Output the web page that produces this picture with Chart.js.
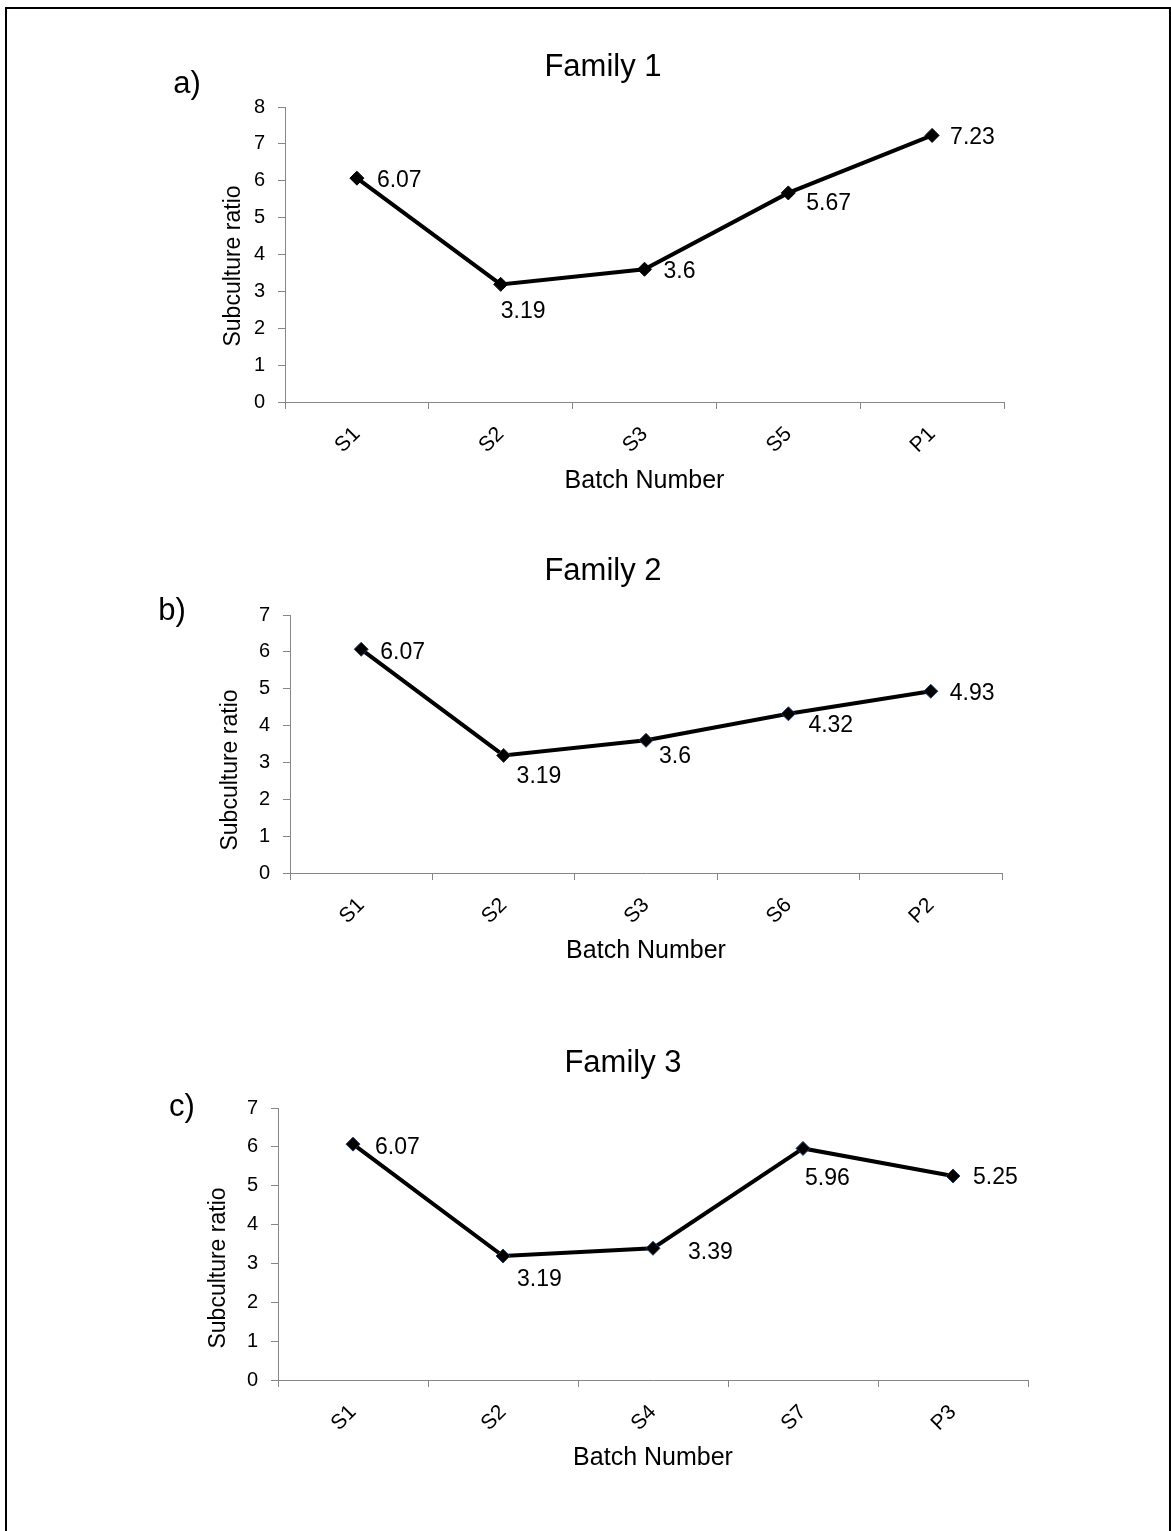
<!DOCTYPE html>
<html>
<head>
<meta charset="utf-8">
<script src="https://cdn.jsdelivr.net/npm/chart.js@4.4.1/dist/chart.umd.min.js"></script>
<style>
  html, body { margin: 0; padding: 0; background: #fff; }
  body { width: 1171px; height: 1531px; overflow: hidden; position: relative; }
  canvas { position: absolute; left: 0; }
  #frame { position: absolute; left: 5px; top: 7px; width: 1166px; height: 1600px;
           border: 2px solid #000; box-sizing: border-box; pointer-events: none; }
</style>
</head>
<body>
<canvas id="family1" width="1171" height="520" style="top:0px"></canvas>
<canvas id="family2" width="1171" height="480" style="top:520px"></canvas>
<canvas id="family3" width="1171" height="531" style="top:1000px"></canvas>
<div id="frame"></div>
<script>
// Batch labels and subculture ratios for each family
const batches1 = ['S1', 'S2', 'S3', 'S5', 'P1'];
const ratios1  = [6.07, 3.19, 3.6, 5.67, 7.23];
const batches2 = ['S1', 'S2', 'S3', 'S6', 'P2'];
const ratios2  = [6.07, 3.19, 3.6, 4.32, 4.93];
const batches3 = ['S1', 'S2', 'S4', 'S7', 'P3'];
const ratios3  = [6.07, 3.19, 3.39, 5.96, 5.25];

// Value-axis tick labels
const ratioTicks1 = [0, 1, 2, 3, 4, 5, 6, 7, 8];
const ratioTicks2 = [0, 1, 2, 3, 4, 5, 6, 7];
const ratioTicks3 = [0, 1, 2, 3, 4, 5, 6, 7];

const FONT = '"Liberation Sans", Arial, Helvetica, sans-serif';
Chart.defaults.font.family = FONT;
Chart.defaults.color = '#000';

const SIZE = { yTick: 20, xTick: 21, value: 23, yTitle: 23, xTitle: 25, title: 31, letter: 31 };

// Titles, panel letters, value-axis caption and value labels drawn on each chart
const annotate = {
  id: 'annotate',
  afterDatasetsDraw(chart, args, opts) {
    const ctx = chart.ctx;
    const ds = chart.data.datasets[0];
    const meta = chart.getDatasetMeta(0);
    ctx.save();
    ctx.fillStyle = '#000';
    ctx.textBaseline = 'middle';
    ctx.textAlign = 'left';
    ctx.font = SIZE.value + 'px ' + FONT;
    meta.data.forEach((pt, i) => {
      const off = opts.offsets[i];
      ctx.fillText(String(ds.data[i]), pt.x + off[0], pt.y + off[1]);
    });

    ctx.textAlign = 'center';
    ctx.textBaseline = 'alphabetic';
    ctx.font = SIZE.title + 'px ' + FONT;
    ctx.fillText(opts.title, opts.titleX, opts.titleY);
    ctx.font = SIZE.letter + 'px ' + FONT;
    ctx.fillText(opts.letter, opts.letterX, opts.letterY);

    ctx.save();
    ctx.translate(opts.yTitleX, opts.yTitleY);
    ctx.rotate(-Math.PI / 2);
    ctx.textBaseline = 'middle';
    ctx.font = SIZE.yTitle + 'px ' + FONT;
    ctx.fillText('Subculture ratio', 0, 0);
    ctx.restore();
    ctx.restore();
  }
};

function makePanel(p) {
  const canvas = document.getElementById(p.id);
  const h = canvas.height;
  const xAxisHeight = h - p.plotBottom;
  const lh = SIZE.xTitle * 1.2;
  return new Chart(canvas, {
    type: 'line',
    data: {
      labels: p.labels,
      datasets: [{
        data: p.values,
        borderColor: '#000',
        borderWidth: 4,
        tension: 0,
        pointStyle: 'rectRot',
        pointRadius: 7,
        pointBackgroundColor: '#000',
        pointBorderColor: p.markerEdge,
        pointBorderWidth: 1
      }]
    },
    options: {
      responsive: false,
      animation: false,
      devicePixelRatio: 1,
      layout: { padding: { left: 0, right: 1171 - p.plotRight, top: p.plotTop, bottom: 0 } },
      plugins: {
        legend: { display: false },
        tooltip: { enabled: false },
        annotate: {
          offsets: p.offsets, title: p.title, titleX: p.titleX, titleY: p.titleY,
          letter: p.letter, letterX: p.letterX, letterY: p.letterY,
          yTitleX: p.yTitleX, yTitleY: p.yTitleY
        }
      },
      scales: {
        x: {
          type: 'category',
          offset: true,
          grid: { offset: true, drawOnChartArea: false, color: '#868686', tickLength: 7, lineWidth: 1 },
          border: { color: '#868686', width: 1 },
          ticks: { autoSkip: false, maxRotation: 45, minRotation: 45, padding: 13,
                   font: { size: SIZE.xTick }, color: '#000' },
          title: { display: true, text: 'Batch Number', font: { size: SIZE.xTitle }, color: '#000',
                   padding: { top: 0, bottom: p.xTitleFromBottom - lh / 2 } },
          afterFit(scale) { scale.height = xAxisHeight; }
        },
        y: {
          min: p.ticks[0],
          max: p.ticks[p.ticks.length - 1],
          afterBuildTicks(scale) { scale.ticks = p.ticks.map(v => ({ value: v })); },
          grid: { drawOnChartArea: false, color: '#868686', tickLength: 7, lineWidth: 1 },
          border: { color: '#868686', width: 1 },
          ticks: { padding: 13, font: { size: SIZE.yTick }, color: '#000' },
          afterFit(scale) { scale.width = p.plotLeft; }
        }
      }
    },
    plugins: [annotate]
  });
}

makePanel({
  id: 'family1', labels: batches1, values: ratios1, ticks: ratioTicks1,
  plotLeft: 285, plotRight: 1004, plotTop: 107, plotBottom: 402,
  xTitleFromBottom: 39, yTitleX: 234, yTitleY: 266,
  title: 'Family 1', titleX: 603, titleY: 76,
  letter: 'a)', letterX: 187, letterY: 93,
  markerEdge: '#000',
  offsets: [[20, 2], [0, 27], [19, 2], [18, 11], [18, 2]]
});

makePanel({
  id: 'family2', labels: batches2, values: ratios2, ticks: ratioTicks2,
  plotLeft: 290, plotRight: 1002, plotTop: 95, plotBottom: 353,
  xTitleFromBottom: 49, yTitleX: 231, yTitleY: 250,
  title: 'Family 2', titleX: 603, titleY: 60,
  letter: 'b)', letterX: 172, letterY: 100,
  markerEdge: '#1f3a60',
  offsets: [[19, 3], [13, 21], [13, 16], [20, 12], [19, 2]]
});

makePanel({
  id: 'family3', labels: batches3, values: ratios3, ticks: ratioTicks3,
  plotLeft: 278, plotRight: 1028, plotTop: 108, plotBottom: 380,
  xTitleFromBottom: 73, yTitleX: 219, yTitleY: 268,
  title: 'Family 3', titleX: 623, titleY: 72,
  letter: 'c)', letterX: 182, letterY: 116,
  markerEdge: '#1f3a60',
  offsets: [[22, 4], [14, 24], [35, 4], [2, 30], [20, 2]]
});
</script>
</body>
</html>
